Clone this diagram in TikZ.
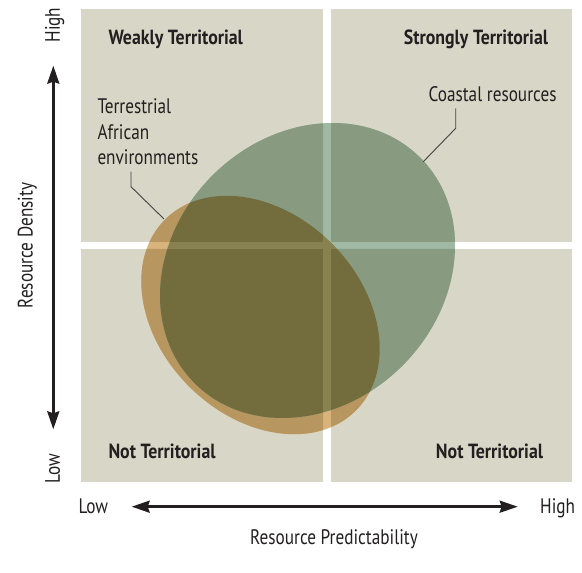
\documentclass[tikz,border=0pt]{standalone}
\usepackage{fontspec}
\setmainfont{PT Sans}[FakeStretch=0.82, BoldFeatures={FakeStretch=0.87}]
\usetikzlibrary{arrows.meta}
\definecolor{quad}{RGB}{216,214,198}
% region colours on white and on the quadrant tint
\definecolor{terrW}{RGB}{217,179,124}
\definecolor{coastW}{RGB}{160,185,165}
\definecolor{bothW}{RGB}{136,130,80}
\definecolor{terrQ}{RGB}{184,150,96}
\definecolor{coastQ}{RGB}{136,155,128}
\definecolor{bothQ}{RGB}{115,109,62}
\definecolor{ink}{RGB}{35,31,32}

\begin{document}
\begin{tikzpicture}[x=1pt,y=1pt,
  quadrant/.style={fill=quad},
  title/.style={font=\fontsize{20.5}{24}\selectfont\bfseries, text=ink, inner sep=0pt},
  txt/.style={font=\fontsize{21}{25.5}\selectfont, text=ink, inner sep=0pt},
  leader/.style={draw=ink!85, line width=0.9pt},
  axisarrow/.style={draw=ink, line width=2.5pt,
    {Stealth[length=18pt,width=12pt,inset=2pt]}-{Stealth[length=18pt,width=12pt,inset=2pt]}},
  terrain/.style={rotate around={-45:(260.5,258)}},
  coast/.style={rotate around={45:(307.5,302.5)}}]
\useasboundingbox (0,0) rectangle (582,573);
\fill[white] (0,0) rectangle (582,573);

% the four quadrants
\fill[quadrant] (81,331) rectangle (323,564);
\fill[quadrant] (331,331) rectangle (572,564);
\fill[quadrant] (81,91) rectangle (323,324);
\fill[quadrant] (331,91) rectangle (572,324);

% resource regions where they cross the white gaps
\fill[terrW, terrain] (260.5,258) ellipse [x radius=135, y radius=101];
\fill[coastW, coast] (307.5,302.5) ellipse [x radius=159.5, y radius=134.4];
\begin{scope}
  \clip[terrain] (260.5,258) ellipse [x radius=135, y radius=101];
  \fill[bothW, coast] (307.5,302.5) ellipse [x radius=159.5, y radius=134.4];
\end{scope}

% resource regions over the quadrants
\begin{scope}
  \clip (81,331) rectangle (323,564) (331,331) rectangle (572,564)
        (81,91) rectangle (323,324) (331,91) rectangle (572,324);
  \fill[terrQ, terrain] (260.5,258) ellipse [x radius=135, y radius=101];
  \fill[coastQ, coast] (307.5,302.5) ellipse [x radius=159.5, y radius=134.4];
  \clip[terrain] (260.5,258) ellipse [x radius=135, y radius=101];
  \fill[bothQ, coast] (307.5,302.5) ellipse [x radius=159.5, y radius=134.4];
\end{scope}

% quadrant titles
\node[title, anchor=base west] (wt) at (108.3,528.7) {Weakly Territorial};
\node[title, anchor=base east] (st) at (548.3,528) {Strongly Territorial};
\node[title, anchor=base west] (ntl) at (108.3,114) {Not Territorial};
\node[title, anchor=base east] (ntr) at (543.3,114) {Not Territorial};

% region labels and leaders
\node[txt, anchor=base west, align=left] (terr) at (97.3,408) {Terrestrial\\African\\environments};
\node[txt, anchor=base east] (coast) at (556.7,471.3) {Coastal resources};

\coordinate (t1) at (131,401.3);
\coordinate (t2) at (131,386.3);
\coordinate (t3) at (164,354);
\draw[leader] (t1) -- (t2) -- (t3);
\coordinate (c1) at (455.7,464.7);
\coordinate (c2) at (455.7,444.7);
\coordinate (c3) at (423.3,411.3);
\draw[leader] (c1) -- (c2) -- (c3);

% vertical axis
\node[txt, rotate=90, anchor=base west] (yhigh) at (60,530.3) {High};
\node[txt, rotate=90, anchor=base west] (ylow) at (60,89.7) {Low};
\node[txt, rotate=90, anchor=base] (ytitle) at (32.5,327.5) {Resource Density};
\coordinate (ya) at (53.3,143.7);
\coordinate (yb) at (53.3,507.3);
\draw[axisarrow] (ya) -- (yb);

% horizontal axis
\node[txt, anchor=base west] (xlow) at (78.3,59.7) {Low};
\node[txt, anchor=base west] (xhigh) at (540,59.7) {High};
\node[txt, anchor=base] (xtitle) at (334,28) {Resource Predictability};
\coordinate (xa) at (131.7,66.3);
\coordinate (xb) at (517.7,66.3);
\draw[axisarrow] (xa) -- (xb);
\end{tikzpicture}
\end{document}
